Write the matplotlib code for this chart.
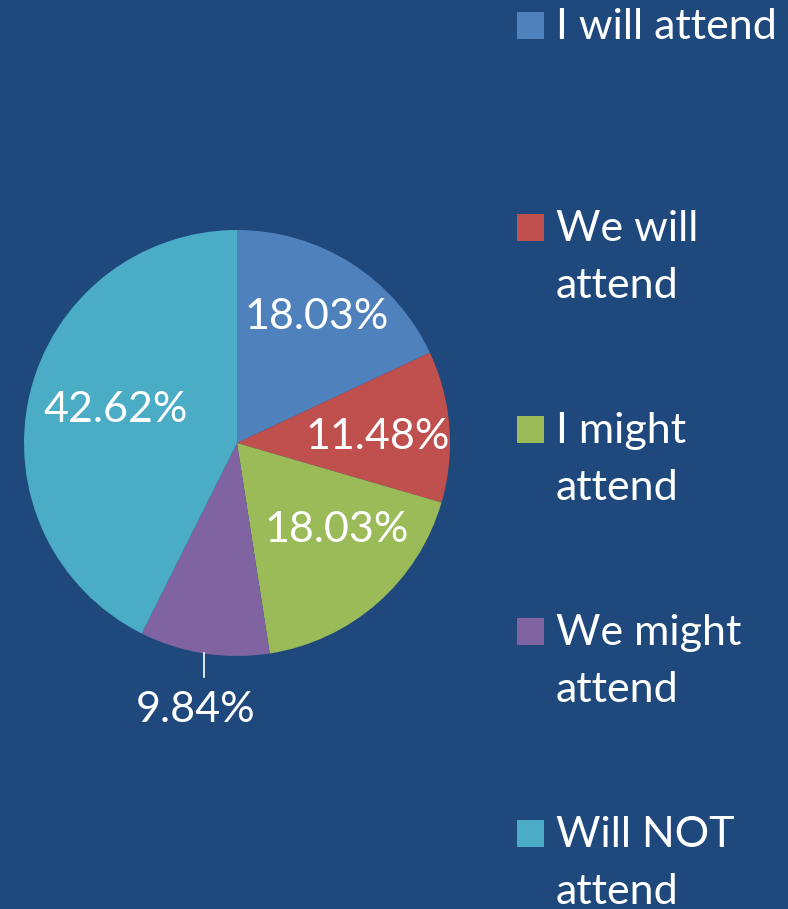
import matplotlib
matplotlib.use("Agg")
import matplotlib.pyplot as plt
from matplotlib.patches import Rectangle
import numpy as np

labels = ["I will attend", "We will\nattend", "I might\nattend", "We might\nattend", "Will NOT\nattend"]
shares = [18.03, 11.48, 18.03, 9.84, 42.62]
colors = ["#4F81BD", "#C0504D", "#9BBB59", "#8064A2", "#4BACC6"]

# where each % label sits: (distance from centre, angle offset in deg)
label_pos = [(0.70, 0.0), (0.66, -2.0), (0.62, 7.5), (1.27, 0.0), (0.59, -2.0)]

bg = "#1F497D"
W, H = 788, 909
plt.rcParams["font.family"] = ["Lato", "DejaVu Sans"]

fig = plt.figure(figsize=(W / 100, H / 100), dpi=100)
fig.patch.set_facecolor(bg)

cx, cy, r = 237, 443, 213
ax = fig.add_axes([(cx - r) / W, (H - cy - r) / H, 2 * r / W, 2 * r / H])
ax.set_facecolor(bg)
wedges, _ = ax.pie(shares, colors=colors, startangle=90, counterclock=False,
                   radius=1, wedgeprops=dict(linewidth=0))
ax.set_xlim(-1, 1)
ax.set_ylim(-1, 1)
ax.set_aspect("equal")
ax.axis("off")

for w, val, (dist, off) in zip(wedges, shares, label_pos):
    mid = np.deg2rad((w.theta1 + w.theta2) / 2 + off)
    x, y = dist * np.cos(mid), dist * np.sin(mid)
    ax.text(x, y, "%.2f%%" % val, color="white", fontsize=31,
            ha="center", va="center", clip_on=False)
    if dist > 1:
        ax.plot([np.cos(mid), np.cos(mid)], [np.sin(mid), 1.11 * np.sin(mid)],
                color="white", lw=1.2, clip_on=False)

# legend drawn by hand so the key square lines up with the first text line
top = 39
step = 202
line = 57
for i, (lab, c) in enumerate(zip(labels, colors)):
    base = top + i * step
    fig.add_artist(Rectangle((517 / W, 1 - base / H), 27 / W, 27 / H,
                             transform=fig.transFigure, facecolor=c, edgecolor="none"))
    for j, part in enumerate(lab.split("\n")):
        fig.text(556 / W, 1 - (base + j * line) / H, part, color="white",
                 fontsize=31, ha="left", va="baseline")

fig.savefig("out.png", dpi=100, facecolor=bg)
